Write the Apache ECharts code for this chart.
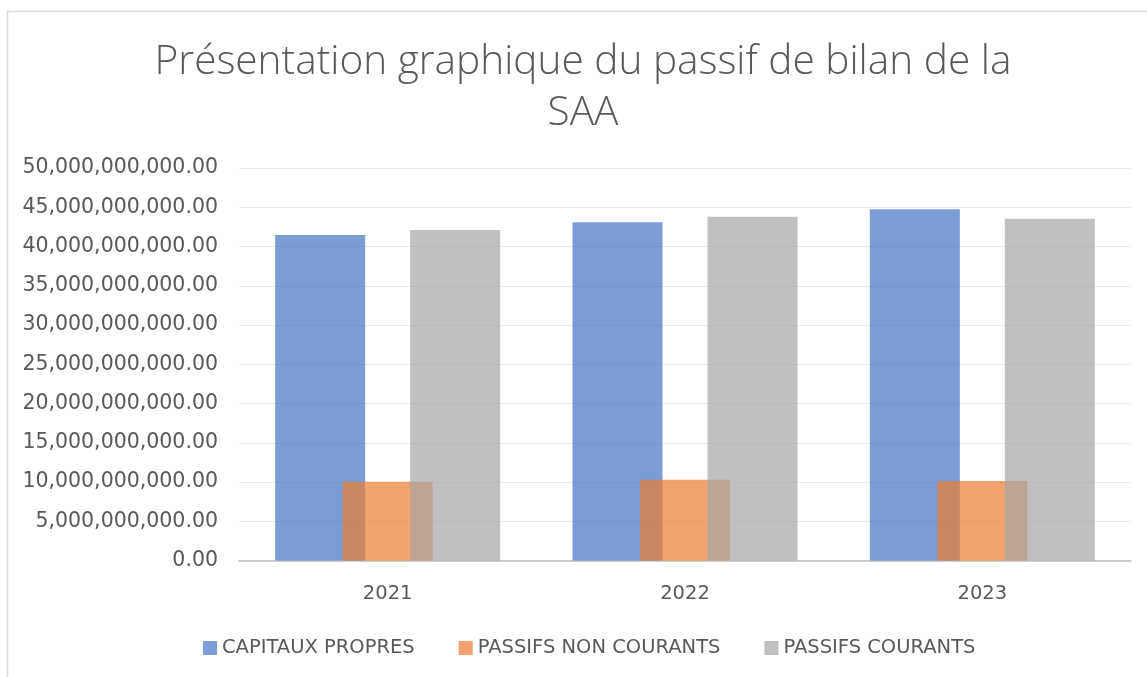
<!DOCTYPE html>
<html>
<head>
<meta charset="utf-8">
<script src="https://cdn.jsdelivr.net/npm/echarts@6/dist/echarts.min.js"></script>
<style>
html,body{margin:0;padding:0;background:#fff;}
#chart{width:1147px;height:677px;}
</style>
</head>
<body>
<div id="chart"></div>
<script>
const categories = ['2021', '2022', '2023'];
const capitauxPropres = [41.46e9, 43.08e9, 44.74e9];
const passifsNonCourants = [10.04e9, 10.29e9, 10.13e9];
const passifsCourants = [42.10e9, 43.80e9, 43.54e9];
const seriesNames = ['CAPITAUX PROPRES', 'PASSIFS NON COURANTS', 'PASSIFS COURANTS'];
const titleText = 'Présentation graphique du passif de bilan de la\nSAA';

const chart = echarts.init(document.getElementById('chart'));
const fmt = v => Number(v).toLocaleString('en-US', {minimumFractionDigits: 2, maximumFractionDigits: 2});
const font = 'DejaVu Sans';
const barStyle = c => ({ color: c, opacity: 0.7 });

chart.setOption({
  animation: false,
  backgroundColor: '#fff',
  graphic: [{
    type: 'rect',
    shape: { x: 7.5, y: 11.5, width: 1200, height: 700 },
    style: { fill: 'none', stroke: '#D9D9D9', lineWidth: 1.5 },
    silent: true, z: -1
  }],
  title: {
    text: titleText,
    left: 578,
    textAlign: 'center',
    top: 32,
    textStyle: { fontFamily: 'Open Sans', fontWeight: 300, fontSize: 40.6, color: '#595959', lineHeight: 51 }
  },
  legend: {
    left: 198,
    top: 633,
    itemWidth: 14,
    itemHeight: 14,
    itemGap: 44,
    icon: 'rect',
    textStyle: { fontFamily: font, fontSize: 19.5, color: '#595959' },
    data: seriesNames
  },
  grid: { left: 239, right: 16, top: 168, bottom: 116.5, containLabel: false },
  xAxis: {
    type: 'category',
    data: categories,
    axisLine: { lineStyle: { color: '#BFBFBF', width: 1.5 } },
    axisTick: { show: false },
    axisLabel: { fontFamily: font, fontSize: 19.5, color: '#595959', margin: 23 }
  },
  yAxis: {
    type: 'value',
    min: 0, max: 50e9, interval: 5e9,
    axisLine: { show: false },
    axisTick: { show: false },
    splitLine: { lineStyle: { color: '#EBEBEB', width: 1 } },
    axisLabel: { fontFamily: font, fontSize: 20.5, color: '#595959', margin: 21, formatter: fmt }
  },
  series: [
    { name: seriesNames[0], type: 'bar', data: capitauxPropres, barWidth: 90, barGap: '-25%', itemStyle: barStyle('#4472C4') },
    { name: seriesNames[1], type: 'bar', data: passifsNonCourants, barWidth: 90, barGap: '-25%', itemStyle: barStyle('#ED7D31') },
    { name: seriesNames[2], type: 'bar', data: passifsCourants, barWidth: 90, barGap: '-25%', itemStyle: barStyle('#A5A5A5') }
  ]
});
</script>
</body>
</html>
